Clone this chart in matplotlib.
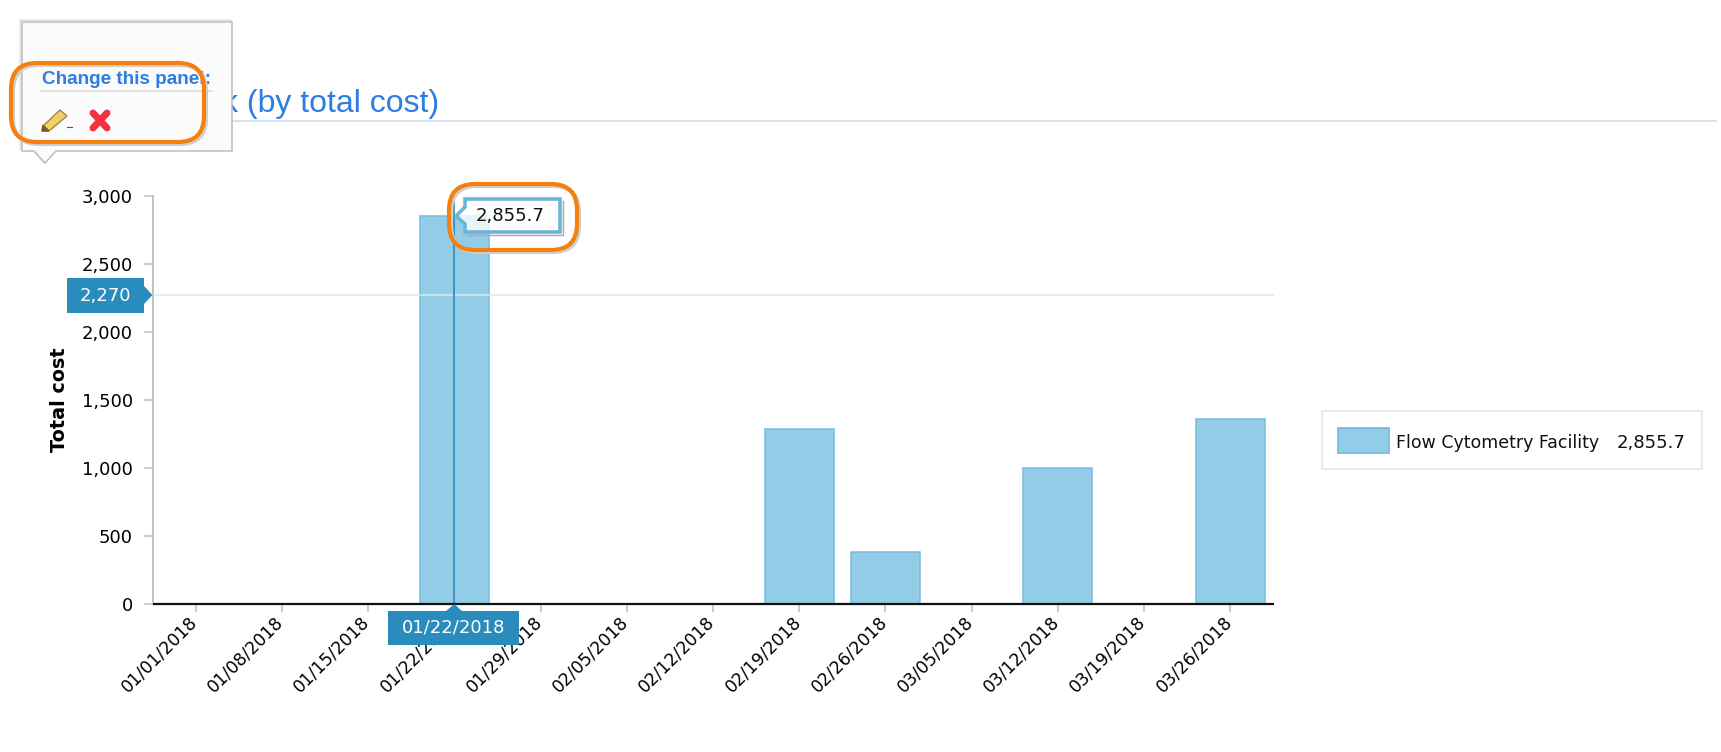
import matplotlib
matplotlib.use('Agg')
import matplotlib.pyplot as plt
from matplotlib.patches import FancyBboxPatch, Polygon, Rectangle
from matplotlib.transforms import ScaledTranslation

# Data
dates = ['01/01/2018', '01/08/2018', '01/15/2018', '01/22/2018', '01/29/2018',
         '02/05/2018', '02/12/2018', '02/19/2018', '02/26/2018', '03/05/2018',
         '03/12/2018', '03/19/2018', '03/26/2018']
total_cost = [0, 0, 0, 2855.7, 0, 0, 0, 1285, 380, 0, 1000, 0, 1360]
y_ticks = [0, 500, 1000, 1500, 2000, 2500, 3000]
series_name = 'Flow Cytometry Facility'
hover_value = 2270
hover_date = '01/22/2018'

W, H = 1721, 752
BLUE = '#2a8cbc'
BAR = '#93cce6'
BAR_EDGE = '#74bde2'
ORANGE = '#f5800e'
TITLE = '#2f7de1'

plt.rcParams['font.family'] = ['DejaVu Sans']

fig = plt.figure(figsize=(W / 100, H / 100), dpi=100)
left, right, top, bottom = 152.6, 1273.5, 196, 603.7
ax = fig.add_axes([left / W, 1 - bottom / H, (right - left) / W, (bottom - top) / H])

# the chart itself
pos = list(range(len(dates)))
ax.bar(pos, total_cost, width=0.8, color=BAR, edgecolor=BAR_EDGE, linewidth=1.1, zorder=2)
ax.set_xlim(-0.5, len(dates) - 0.5)
ax.set_ylim(0, 3000)
ax.set_xticks(pos)
ax.set_xticklabels(dates, rotation=45, ha='right', rotation_mode='anchor', fontsize=12.4)
ax.set_yticks(y_ticks)
ax.set_yticklabels([f'{v:,}' for v in y_ticks], fontsize=13)
ax.tick_params(axis='x', length=5.8, width=1.2, color='#c4c4c4', pad=0.5)
ax.tick_params(axis='y', length=6.8, width=1.2, color='#c4c4c4', pad=7.5)
# labels end a little left of their tick in the original
shift = ScaledTranslation(-7.5 / 100, 0, fig.dpi_scale_trans)
for lab in ax.get_xticklabels():
    lab.set_transform(lab.get_transform() + shift)
ax.set_ylabel('Total cost', fontsize=13.8, fontweight='bold')
ax.yaxis.set_label_coords((69 - left) / (right - left), 0.5)
for s in ['top', 'right']:
    ax.spines[s].set_visible(False)
ax.spines['left'].set_color('#b8b8b8')
ax.spines['left'].set_linewidth(1.2)
ax.spines['bottom'].set_color('#111111')
ax.spines['bottom'].set_linewidth(1.6)
ax.spines['bottom'].set_capstyle('butt')
ax.spines['bottom'].set_zorder(5)

# hover crosshair
ax.axhline(hover_value, color='#d5e9f2', linewidth=1.1, zorder=3)
ax.axvline(dates.index(hover_date), color=BLUE, linewidth=1.2, zorder=4)

# overlay in pixel coordinates for everything that is page furniture
ov = fig.add_axes([0, 0, 1, 1], zorder=10)
ov.set_xlim(0, W)
ov.set_ylim(H, 0)
ov.axis('off')

# section title and its rule
ov.text(439, 112, 'k (by total cost)', color=TITLE, fontsize=23,
        family='Liberation Sans', ha='right', va='baseline', zorder=1)
ov.plot([160, 1716], [121, 121], color='#c9d9e8', linewidth=1.1, zorder=1)

# hover labels
ov.add_patch(Polygon([(67, 278), (144, 278), (144, 286), (152.5, 295), (144, 304), (144, 313), (67, 313)],
                     closed=True, color=BLUE, linewidth=0, zorder=3))
ov.text(105.5, 296, f'{hover_value:,}', color='white', fontsize=13, ha='center', va='center', zorder=4)
ov.add_patch(Polygon([(388, 611), (446, 611), (454.3, 604), (462, 611), (519, 611), (519, 645), (388, 645)],
                     closed=True, color=BLUE, linewidth=0, zorder=3))
ov.text(453.5, 628, hover_date, color='white', fontsize=13, ha='center', va='center', zorder=4)

# value tooltip
tip = [(465, 199), (560, 199), (560, 232), (465, 232), (465, 224), (456, 216), (465, 207)]
ov.plot([467, 562.5, 562.5], [234.5, 234.5, 201], color='#a8a8a8', linewidth=1.0, zorder=3)
ov.add_patch(Polygon(tip, closed=True, facecolor=(1, 1, 1, 0.8), edgecolor='#6bb4da', linewidth=2.6, zorder=4))
ov.text(510, 216, f'{max(total_cost):,.1f}', color='#111111', fontsize=13, ha='center', va='center', zorder=5)

# legend
ov.add_patch(Rectangle((1322, 411), 380, 58, facecolor='white', edgecolor='#e8e8e8', linewidth=1.3, zorder=3))
ov.add_patch(Rectangle((1338, 428), 51, 25, facecolor=BAR, edgecolor=BAR_EDGE, linewidth=1.3, zorder=4))
ov.text(1396, 443, series_name, color='#111111', fontsize=12.5, ha='left', va='center', zorder=4)
ov.text(1685, 443, f'{max(total_cost):,.1f}', color='#111111', fontsize=13, ha='right', va='center', zorder=4)

# popup panel sitting over the title
popup = [(22, 22), (232, 22), (232, 151), (56, 151), (45, 163), (34, 151), (22, 151)]
ov.add_patch(Polygon([(x - 1.5, y - 1.5) for x, y in popup], closed=True, facecolor='none',
                     edgecolor='#e2e2e2', linewidth=1.6, zorder=6))
ov.add_patch(Polygon(popup, closed=True, facecolor='#fbfbfb', edgecolor='#bdbdbd', linewidth=1.1, zorder=6))
ov.text(42, 84, 'Change this panel:', color=TITLE, fontsize=13.6, fontweight='bold',
        family='Liberation Sans', ha='left', va='baseline', zorder=7)
ov.plot([41, 212], [91, 91], color='#dddddd', linewidth=1.2, zorder=7)

# pencil icon
ov.add_patch(Polygon([(43, 126), (60, 110), (67, 116), (49, 131), (42, 131)], closed=True,
                     facecolor='#f0cf6a', edgecolor='#a9853f', linewidth=1.0, zorder=7))
ov.add_patch(Polygon([(42, 131), (43, 125), (49, 131)], closed=True, color='#7a5a2c', zorder=8))
ov.plot([67, 72], [127, 127], color='#555555', linewidth=0.8, zorder=7)
# red cross icon
ov.plot([93, 107], [113, 128], color='#f5303f', linewidth=5, solid_capstyle='round', zorder=7)
ov.plot([107, 93], [113, 128], color='#f5303f', linewidth=5, solid_capstyle='round', zorder=7)

# orange callouts with a soft grey shadow
r = 26
for x0, y0, x1, y1 in [(11, 63, 204, 142), (449, 184, 577, 250)]:
    for off, col, lw in [(2, '#cfcfcf', 3), (0, ORANGE, 3)]:
        ov.add_patch(FancyBboxPatch((x0 + r + off, y0 + r + off), x1 - x0 - 2 * r, y1 - y0 - 2 * r,
                                    boxstyle=f'round,pad={r},rounding_size={r}', facecolor='none',
                                    edgecolor=col, linewidth=lw, zorder=8 + (off == 0)))

fig.savefig('out.png', dpi=100, facecolor='white')
